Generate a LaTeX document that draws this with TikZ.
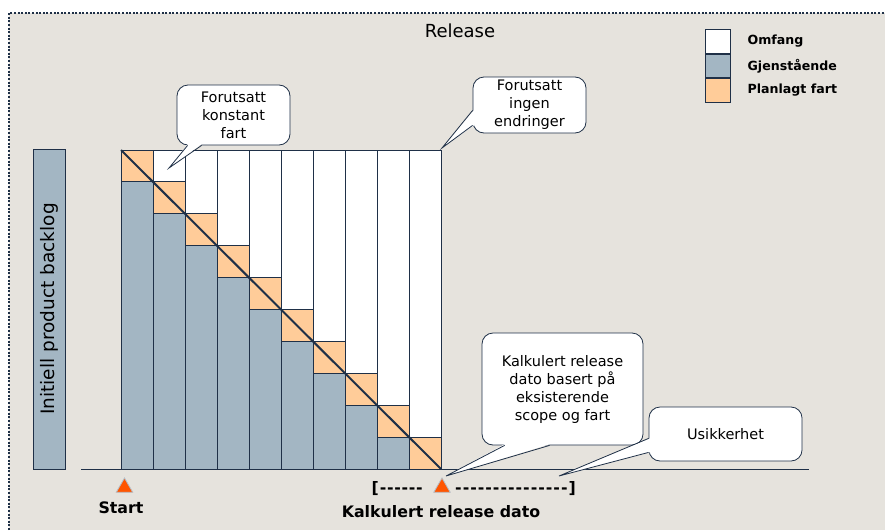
\documentclass[tikz,border=0pt]{standalone}
\usepackage{fontspec}
\setmainfont{DejaVu Sans}
\usetikzlibrary{positioning,calc,shapes.geometric}
\definecolor{bggray}{HTML}{E6E3DD}
\definecolor{edgeblue}{HTML}{1F3047}
\definecolor{restblue}{HTML}{A3B6C3}
\definecolor{planorange}{HTML}{FFCC99}
\definecolor{markred}{HTML}{FF5500}
\definecolor{markrim}{HTML}{B4BFC9}

\begin{document}
\begin{tikzpicture}[x=1pt,y=-1pt,
    cell/.style={draw=edgeblue,line width=0.9pt},
    bubble/.style={draw=edgeblue,fill=white,rounded corners=11pt,align=center,
      font=\fontsize{14.5}{18}\selectfont,line width=0.8pt,inner sep=0pt},
    tailline/.style={draw=edgeblue,line width=0.8pt},
    legbox/.style={draw=edgeblue,line width=0.8pt,minimum width=25pt,minimum height=23.7pt,inner sep=0pt},
    legtext/.style={font=\fontsize{12.6}{14}\selectfont\bfseries,inner sep=0pt,anchor=west},
    marker/.style={regular polygon,regular polygon sides=3,fill=markred,draw=markrim,
      line width=0.8pt,minimum size=19pt,inner sep=0pt},
    bottomtext/.style={font=\fontsize{15.8}{18}\selectfont\bfseries,inner sep=0pt}
  ]
  \useasboundingbox (0,0) rectangle (885,530);
  % background and frame
  \fill[bggray] (9,13) rectangle (885,530);
  \draw[edgeblue,line width=2pt,dash pattern=on 2pt off 1.6pt] (9,530) -- (9,13) -- (885,13);

  \node[font=\fontsize{18}{20}\selectfont] (title) at (460,31) {Release};

  % legend
  \node[legbox,fill=white] (omf) at (717.5,41.5) {};
  \node[legbox,fill=restblue,below=0pt of omf] (gjen) {};
  \node[legbox,fill=planorange,below=0pt of gjen] (plan) {};
  \node[legtext,right=17pt of omf.east] {Omfang};
  \node[legtext,right=17pt of gjen.east] {Gjenstående};
  \node[legtext,right=17pt of plan.east] {Planlagt fart};

  % initial backlog bar
  \node[draw=edgeblue,line width=0.8pt,fill=restblue,rotate=90,minimum width=320pt,
    minimum height=32pt,inner sep=0pt,font=\fontsize{18.5}{20}\selectfont] (init) at (49,309)
    {Initiell product backlog};

  % columns
  \foreach \i in {0,...,9}{
    \pgfmathsetmacro\xa{121+32*\i}
    \pgfmathsetmacro\xb{\xa+32}
    \pgfmathsetmacro\ya{150+31.9*\i}
    \pgfmathsetmacro\yb{\ya+31.9}
    \ifnum\i>0 \draw[cell,fill=white] (\xa,150) rectangle (\xb,\ya); \fi
    \draw[cell,fill=planorange] (\xa,\ya) rectangle (\xb,\yb);
    \ifnum\i<9 \draw[cell,fill=restblue] (\xa,\yb) rectangle (\xb,469); \fi
  }
  \coordinate (top) at (121,150);
  \coordinate (done) at (441,469);
  \draw[edgeblue,line width=2pt] (top) -- (done);

  % axis
  \coordinate (ax0) at (81,469);
  \coordinate (ax1) at (809,469);
  \draw[edgeblue,line width=0.9pt] (ax0) -- (ax1);

  % markers
  \node[marker] (start) at (124.5,487.5) {};
  \node[marker] (rel) at (442,487.5) {};
  \node[bottomtext] at (121,508) {Start};
  \node[bottomtext,anchor=east] at (423,489)
    {[\kern1pt-\kern0.7pt-\kern0.7pt-\kern0.7pt-\kern0.7pt-\kern0.7pt-};
  \node[bottomtext,anchor=west] at (455,489)
    {-\kern1pt-\kern1pt-\kern1pt-\kern1pt-\kern1pt-\kern1pt-\kern1pt-\kern1pt-\kern1pt-\kern1pt-\kern1pt-\kern1pt-\kern1pt-\kern1pt-\kern1pt]};
  \node[bottomtext] (reltext) at (441,512) {Kalkulert release dato};

  % callouts
  \node[bubble,minimum width=113pt,minimum height=60pt] (konst) at (233.5,115)
    {Forutsatt\\konstant\\fart};
  \node[bubble,minimum width=113pt,minimum height=56pt] (ingen) at (529.5,105)
    {Forutsatt\\ingen\\endringer};
  \node[bubble,minimum width=161pt,minimum height=112pt] (kalk) at (562.5,389)
    {Kalkulert release\\dato basert på\\eksisterende\\scope og fart};
  \node[bubble,minimum width=153pt,minimum height=54pt] (usik) at (725.5,434)
    {Usikkerhet};

  \coordinate (tipA) at (169,168);
  \coordinate (tipB) at (442,148);
  \coordinate (tipC) at (446,476);
  \coordinate (tipD) at (559,476);

  \fill[white] ($(konst.south west)+(11,-1.2)$) -- (tipA) -- ($(konst.south west)+(25,-1.2)$) -- cycle;
  \draw[tailline] ($(konst.south west)+(11,0)$) -- (tipA) -- ($(konst.south west)+(25,0)$);

  \fill[white] ($(ingen.south west)+(1.2,-23)$) -- (tipB) -- ($(ingen.south west)+(1.2,-8)$) -- cycle;
  \draw[tailline] ($(ingen.south west)+(0,-23)$) -- (tipB) -- ($(ingen.south west)+(0,-8)$);

  \fill[white] ($(kalk.south west)+(23,-1.2)$) -- (tipC) -- ($(kalk.south west)+(68,-1.2)$) -- cycle;
  \draw[tailline] ($(kalk.south west)+(23,0)$) -- (tipC) -- ($(kalk.south west)+(68,0)$);

  \fill[white] ($(usik.south west)+(1.2,-23)$) -- (tipD) -- ($(usik.south west)+(1.2,-9)$) -- cycle;
  \draw[tailline] ($(usik.south west)+(0,-23)$) -- (tipD) -- ($(usik.south west)+(0,-9)$);
\end{tikzpicture}
\end{document}
